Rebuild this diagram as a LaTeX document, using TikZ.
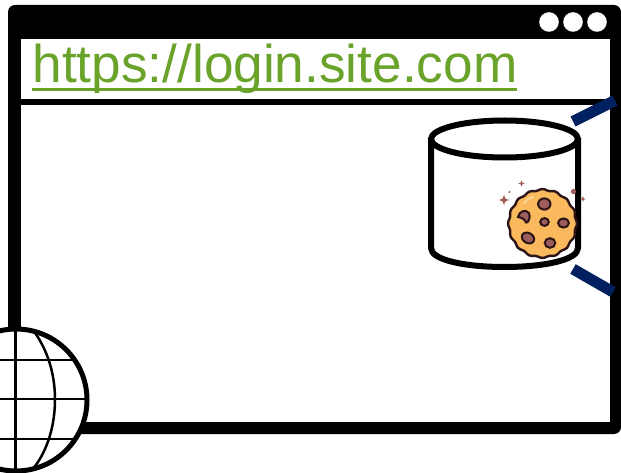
\documentclass[tikz,border=0pt]{standalone}
\usepackage{fontspec}
\setmainfont{Liberation Sans}
\definecolor{urlgreen}{HTML}{6AA329}
\definecolor{navyline}{HTML}{002060}
\definecolor{cookiefill}{HTML}{FBB95E}
\definecolor{cookieshade}{HTML}{F4AB4E}
\definecolor{cookielight}{HTML}{FDD08A}
\definecolor{cookieedge}{HTML}{2B1416}
\definecolor{chipfill}{HTML}{9C5D5C}
\definecolor{sparkle}{HTML}{9C5D5C}
\tikzset{
  chip/.style={fill=chipfill,draw=cookieedge,line width=2pt},
  gridline/.style={draw=black,line width=2.5pt},
  sparkstar/.style={fill=sparkle,draw=none},
}
\newcommand{\sparkat}[3]{\fill[sparkstar] (#1-#3,#2) .. controls (#1-0.2*#3,#2-0.2*#3) .. (#1,#2-#3) .. controls (#1+0.2*#3,#2-0.2*#3) .. (#1+#3,#2) .. controls (#1+0.2*#3,#2+0.2*#3) .. (#1,#2+#3) .. controls (#1-0.2*#3,#2+0.2*#3) .. cycle;}
\begin{document}
\begin{tikzpicture}[x=1pt,y=-1pt]
\useasboundingbox (0,0) rectangle (621,473);
% window
\fill[black,rounded corners=7pt] (8,5) rectangle (621,434);
\fill[white] (21,39) rectangle (610,98.7);
\fill[white] (21,105) rectangle (610,422);
\foreach \cx in {549,573,597} \fill[white] (\cx,22) circle (9.8);
% URL
\node[anchor=base west,inner sep=0pt,text=urlgreen,font=\fontsize{53.2}{60}\selectfont] (url) at (32.3,83) {https://login.site.com};
\fill[urlgreen] (32,88) rectangle (517,91.5);
% navy bars
\draw[navyline,line width=11pt] (573,121.5) -- (615,100.5);
\draw[navyline,line width=11pt] (573,269) -- (613,292);
% cylinder
\draw[black,line width=6pt,fill=white] (431,139) -- (431,248)
  .. controls (431,260) and (465,267) .. (504.5,267)
  .. controls (544,267) and (578,260) .. (578,248) -- (578,139);
\draw[black,line width=6pt,fill=white] (504.5,139) ellipse (73.5 and 18.5);
% sparkles
\sparkat{504}{200}{5.5}
\sparkat{521.5}{183.5}{3.2}
\sparkat{583}{199}{2.8}
\fill[sparkle] (509.5,192) circle (1.1);
\fill[sparkle] (573.5,191.5) circle (2.6);
% cookie
\draw[fill=cookiefill,draw=cookieedge,line width=2.4pt]
  plot[smooth cycle,samples=96,domain=0:356.25] ({542.5+(33.8+0.7*cos(16*\x))*cos(\x)},{223.5+(33.8+0.7*cos(16*\x))*sin(\x)});
\draw[cookielight,line width=2.4pt,line cap=round] (524,203) .. controls (526,200) and (529,198) .. (533,197);
% chips
\draw[chip] (544.3,204) ellipse (6.2 and 5.6);
\draw[chip] (518,217) .. controls (519,211) and (526,209) .. (529,213) .. controls (531,217) and (528,224) .. (526,222.5) .. controls (525,219) and (521,217.5) .. (518,217) -- cycle;
\draw[chip] (544.5,222) ellipse (4.3 and 3.9);
\draw[chip] (563.5,223) ellipse (5.4 and 4.6);
\draw[chip,rotate around={-30:(528,238)}] (528,238) ellipse (6.5 and 5);
\draw[chip] (550,243) ellipse (5.3 and 4.8);
% globe
\begin{scope}
\clip (0,0) rectangle (621,473);
\draw[black,line width=5pt,fill=white] (16,400) circle (71);
\draw[gridline] (-60,360) -- (75,360);
\draw[gridline] (-60,399) -- (86,399);
\draw[gridline] (-60,439) -- (73,439);
\draw[gridline] (15.5,328) -- (15.5,472);
\draw[gridline] (33,330) .. controls (48,350) and (55,375) .. (55,399) .. controls (55,425) and (48,450) .. (33,469);
\end{scope}
\end{tikzpicture}
\end{document}
